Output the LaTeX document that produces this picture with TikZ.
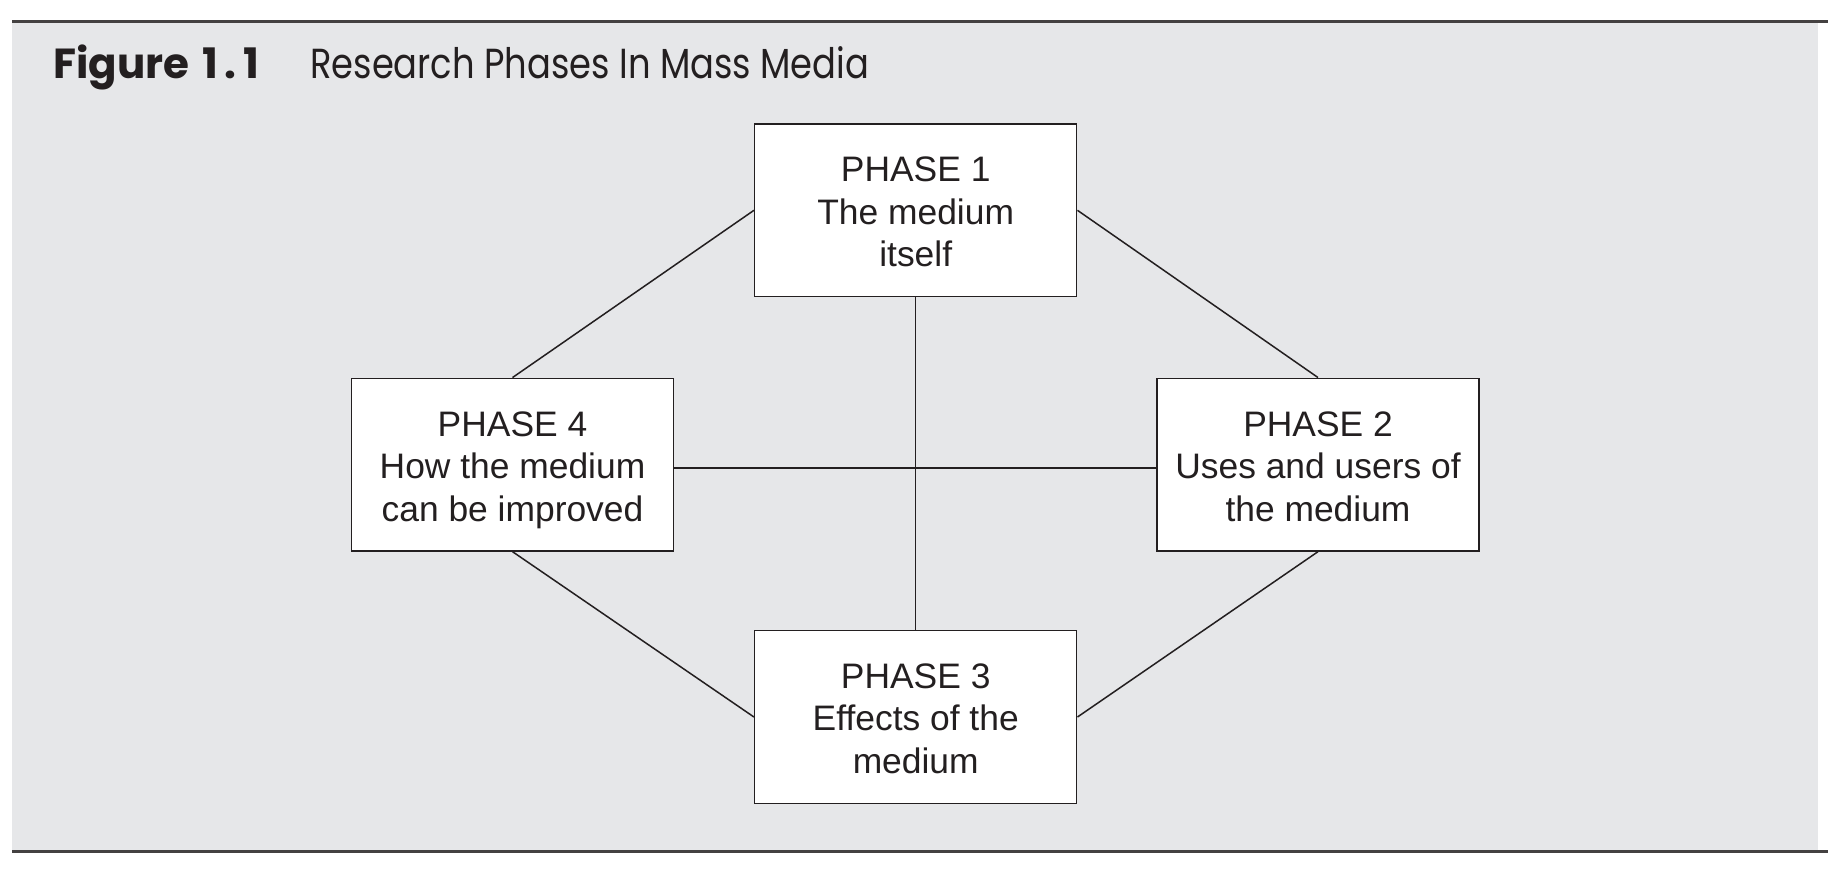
\documentclass[tikz,border=0pt]{standalone}
\usepackage{fontspec}
\setmainfont{Liberation Sans}
\newfontfamily\titlefont{Poppins}
\definecolor{bgray}{HTML}{E6E7E9}
\definecolor{ink}{HTML}{231F20}
\begin{document}
\begin{tikzpicture}[x=0.5pt,y=-0.5pt,
  phasebox/.style={draw=ink,line width=0.75pt,fill=white,minimum width=161pt,minimum height=86.3pt,
    align=center,text=ink,font=\fontsize{17.7}{21.25}\selectfont,inner sep=0pt,
    text height=56.4pt,text depth=0pt},
  link/.style={draw=ink,line width=0.75pt},
  rule/.style={draw=ink!85,line width=1.3pt}]
\useasboundingbox (0,0) rectangle (1840,880);
\fill[white] (0,0) rectangle (1840,880);
\fill[bgray] (12,21.7) rectangle (1818,851.7);
\draw[rule] (12,21.7) -- (1828,21.7);
\draw[rule] (12,851.7) -- (1828,851.7);
\node[anchor=base west,inner sep=0pt,text=ink,font=\titlefont\bfseries\fontsize{21}{24}\selectfont] (fig) at (53,78) {Figure\hspace{0.3em}1\hspace{0.17em}.\hspace{0.17em}1};
\node[anchor=base west,inner sep=0pt,text=ink,font=\titlefont\fontsize{21}{24}\selectfont,xscale=0.84] (ttl) at (310,78) {Research Phases In Mass Media};
\node[phasebox] (p1) at (915.7,210.3) {PHASE 1\\The medium\\itself};
\node[phasebox] (p4) at (512.5,464.6) {PHASE 4\\How the medium\\can be improved};
\node[phasebox] (p2) at (1318,464.6) {PHASE 2\\Uses and users of\\the medium};
\node[phasebox] (p3) at (915.7,717) {PHASE 3\\Effects of the\\medium};
\draw[link] (p1.west) -- (p4.north);
\draw[link] (p1.east) -- (p2.north);
\draw[link] (p4.south) -- (p3.west);
\draw[link] (p2.south) -- (p3.east);
\draw[link] (p1.south) -- (p3.north);
\draw[link] ([yshift=-1.8pt]p4.east) -- ([yshift=-1.8pt]p2.west);
\end{tikzpicture}
\end{document}
